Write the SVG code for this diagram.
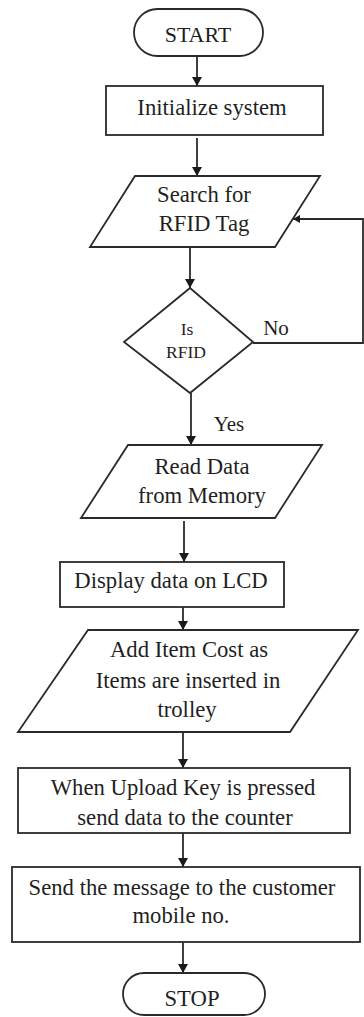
<svg xmlns="http://www.w3.org/2000/svg" width="364" height="1017" viewBox="0 0 364 1017">
<defs>
<marker id="arr" markerUnits="userSpaceOnUse" markerWidth="10" markerHeight="10" refX="9" refY="5" orient="auto">
<path d="M0,0 L9,5 L0,10 Z" fill="#1a1a1a"/>
</marker>
<marker id="arrs" markerUnits="userSpaceOnUse" markerWidth="8" markerHeight="8" refX="7" refY="4" orient="auto">
<path d="M0,0 L7,4 L0,8 Z" fill="#1a1a1a"/>
</marker>
</defs>
<style>
.shape{fill:#fff;stroke:#2a2a2a;stroke-width:1.8}
.t{font-family:"Liberation Serif","Times New Roman",serif;font-size:22.7px;fill:#1f1f1f;text-anchor:middle}
.s{font-size:17.5px}
.c{fill:none;stroke:#2a2a2a;stroke-width:1.8}
</style>
<rect width="364" height="1017" fill="#fff"/>
<g id="connectors">
<line class="c" x1="197" y1="56" x2="197" y2="86" marker-end="url(#arr)"/>
<line class="c" x1="197" y1="138" x2="197" y2="176" marker-end="url(#arr)"/>
<line class="c" x1="190" y1="247" x2="190" y2="288" marker-end="url(#arr)"/>
<polyline class="c" points="253,343 363,343 363,219 293,219" marker-end="url(#arrs)"/>
<line class="c" x1="191" y1="393" x2="191" y2="445" marker-end="url(#arr)"/>
<line class="c" x1="184" y1="521" x2="184" y2="562" marker-end="url(#arr)"/>
<line class="c" x1="183" y1="607" x2="183" y2="630" marker-end="url(#arr)"/>
<line class="c" x1="183" y1="732" x2="183" y2="768" marker-end="url(#arr)"/>
<line class="c" x1="183" y1="833" x2="183" y2="867" marker-end="url(#arr)"/>
<line class="c" x1="183" y1="942" x2="183" y2="973" marker-end="url(#arr)"/>
<text class="t" x="276" y="335" style="font-size:21px">No</text>
<text class="t" x="229" y="431" style="font-size:21px">Yes</text>
</g>
<g id="start">
<rect class="shape" x="134" y="9" width="129" height="47" rx="23.5"/>
<text class="t" x="198" y="42" style="font-size:22px">START</text>
</g>
<g id="init">
<rect class="shape" x="106" y="86" width="217" height="49"/>
<text class="t" x="212" y="115">Initialize system</text>
</g>
<g id="search">
<polygon class="shape" points="135,176 320,176 275,247 90,247"/>
<text class="t" x="204" y="202">Search for</text>
<text class="t" x="204" y="231">RFID Tag</text>
</g>
<g id="decision">
<polygon class="shape" points="190,288 253,342 190,393 124,342"/>
<text class="t s" x="187" y="335">Is</text>
<text class="t s" x="186" y="358">RFID</text>
</g>
<g id="read">
<polygon class="shape" points="128,445 322,445 275,518 81,518"/>
<text class="t" x="202" y="474">Read Data</text>
<text class="t" x="202" y="503">from Memory</text>
</g>
<g id="display">
<rect class="shape" x="60" y="562" width="224" height="45"/>
<text class="t" x="171" y="588">Display data on LCD</text>
</g>
<g id="add">
<polygon class="shape" points="88,630 358,630 290,732 18,732"/>
<text class="t" x="189" y="657">Add Item Cost as</text>
<text class="t" x="188" y="688">Items are inserted in</text>
<text class="t" x="187" y="717">trolley</text>
</g>
<g id="upload">
<rect class="shape" x="18" y="768" width="332" height="65"/>
<text class="t" x="183" y="795">When Upload Key is pressed</text>
<text class="t" x="185" y="825">send data to the counter</text>
</g>
<g id="send">
<rect class="shape" x="12" y="867" width="348" height="75"/>
<text class="t" x="182" y="895">Send the message to the customer</text>
<text class="t" x="181" y="923">mobile no.</text>
</g>
<g id="stop">
<rect class="shape" x="123" y="973" width="142" height="42" rx="21"/>
<text class="t" x="192" y="1006">STOP</text>
</g>
</svg>
